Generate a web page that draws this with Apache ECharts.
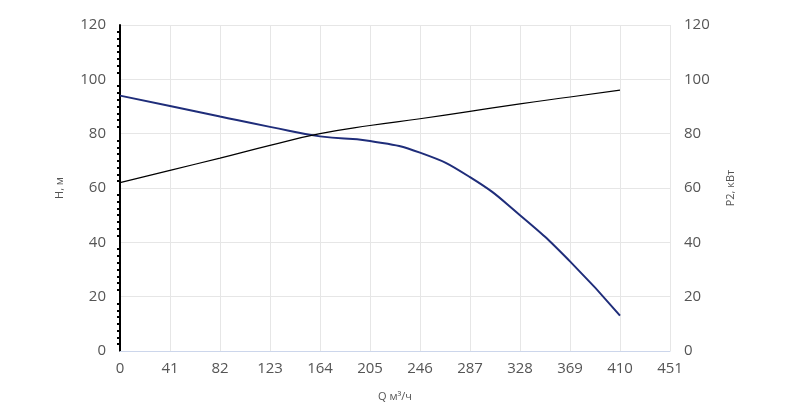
<!DOCTYPE html><html><head><meta charset="utf-8"><script src="https://cdn.jsdelivr.net/npm/echarts@6/dist/echarts.min.js"></script></head><body style="margin:0"><div id="c" style="width:800px;height:408px"></div><script>
const xTicks=[0,41,82,123,164,205,246,287,328,369,410,451];
const hData=[[0,94],[41,90.2],[82,86.3],[123,82.5],[164,79],[205,77.3],[246,73],[287,64],[328,50],[369,33],[410,13]];
const pData=[[0,62],[41,66.5],[82,71],[123,75.7],[164,80],[205,83],[246,85.5],[287,88.2],[328,91],[369,93.5],[410,96]];
const txt='#555', f='Open Sans';
const c=echarts.init(document.getElementById('c'));
c.setOption({animation:false,
grid:{left:120,right:130,top:25,bottom:57},
xAxis:{type:'value',min:0,max:451,interval:41,name:'Q м³/ч',nameLocation:'middle',nameGap:40,nameTextStyle:{color:txt,fontSize:11,fontFamily:f},
 axisLine:{lineStyle:{color:'#ccd6eb'}},axisTick:{show:false},axisLabel:{color:txt,fontSize:15,fontFamily:f,margin:10},splitLine:{lineStyle:{color:'#e6e6e6'}}},
yAxis:[{type:'value',min:0,max:120,interval:20,name:'H, м',nameLocation:'middle',nameGap:55,nameTextStyle:{color:txt,fontSize:11,fontFamily:f},
 axisLine:{show:true,lineStyle:{color:'#000',width:2}},axisTick:{show:false},minorTick:{show:true,splitNumber:8,length:3,lineStyle:{color:'#000',width:2}},
 axisLabel:{color:txt,fontSize:15,fontFamily:f,margin:14},splitLine:{lineStyle:{color:'#e6e6e6'}}},
 {type:'value',min:0,max:120,interval:20,name:'P2, кВт',nameLocation:'middle',nameGap:55,nameTextStyle:{color:txt,fontSize:11,fontFamily:f},
 axisLine:{show:false},axisTick:{show:false},axisLabel:{color:txt,fontSize:15,fontFamily:f,margin:14},splitLine:{show:false}}],
series:[{type:'line',data:hData,smooth:true,showSymbol:false,lineStyle:{color:'#1f2d7a',width:2}},
 {type:'line',yAxisIndex:1,data:pData,smooth:true,showSymbol:false,lineStyle:{color:'#000',width:1.2}}]});
</script></body></html>
